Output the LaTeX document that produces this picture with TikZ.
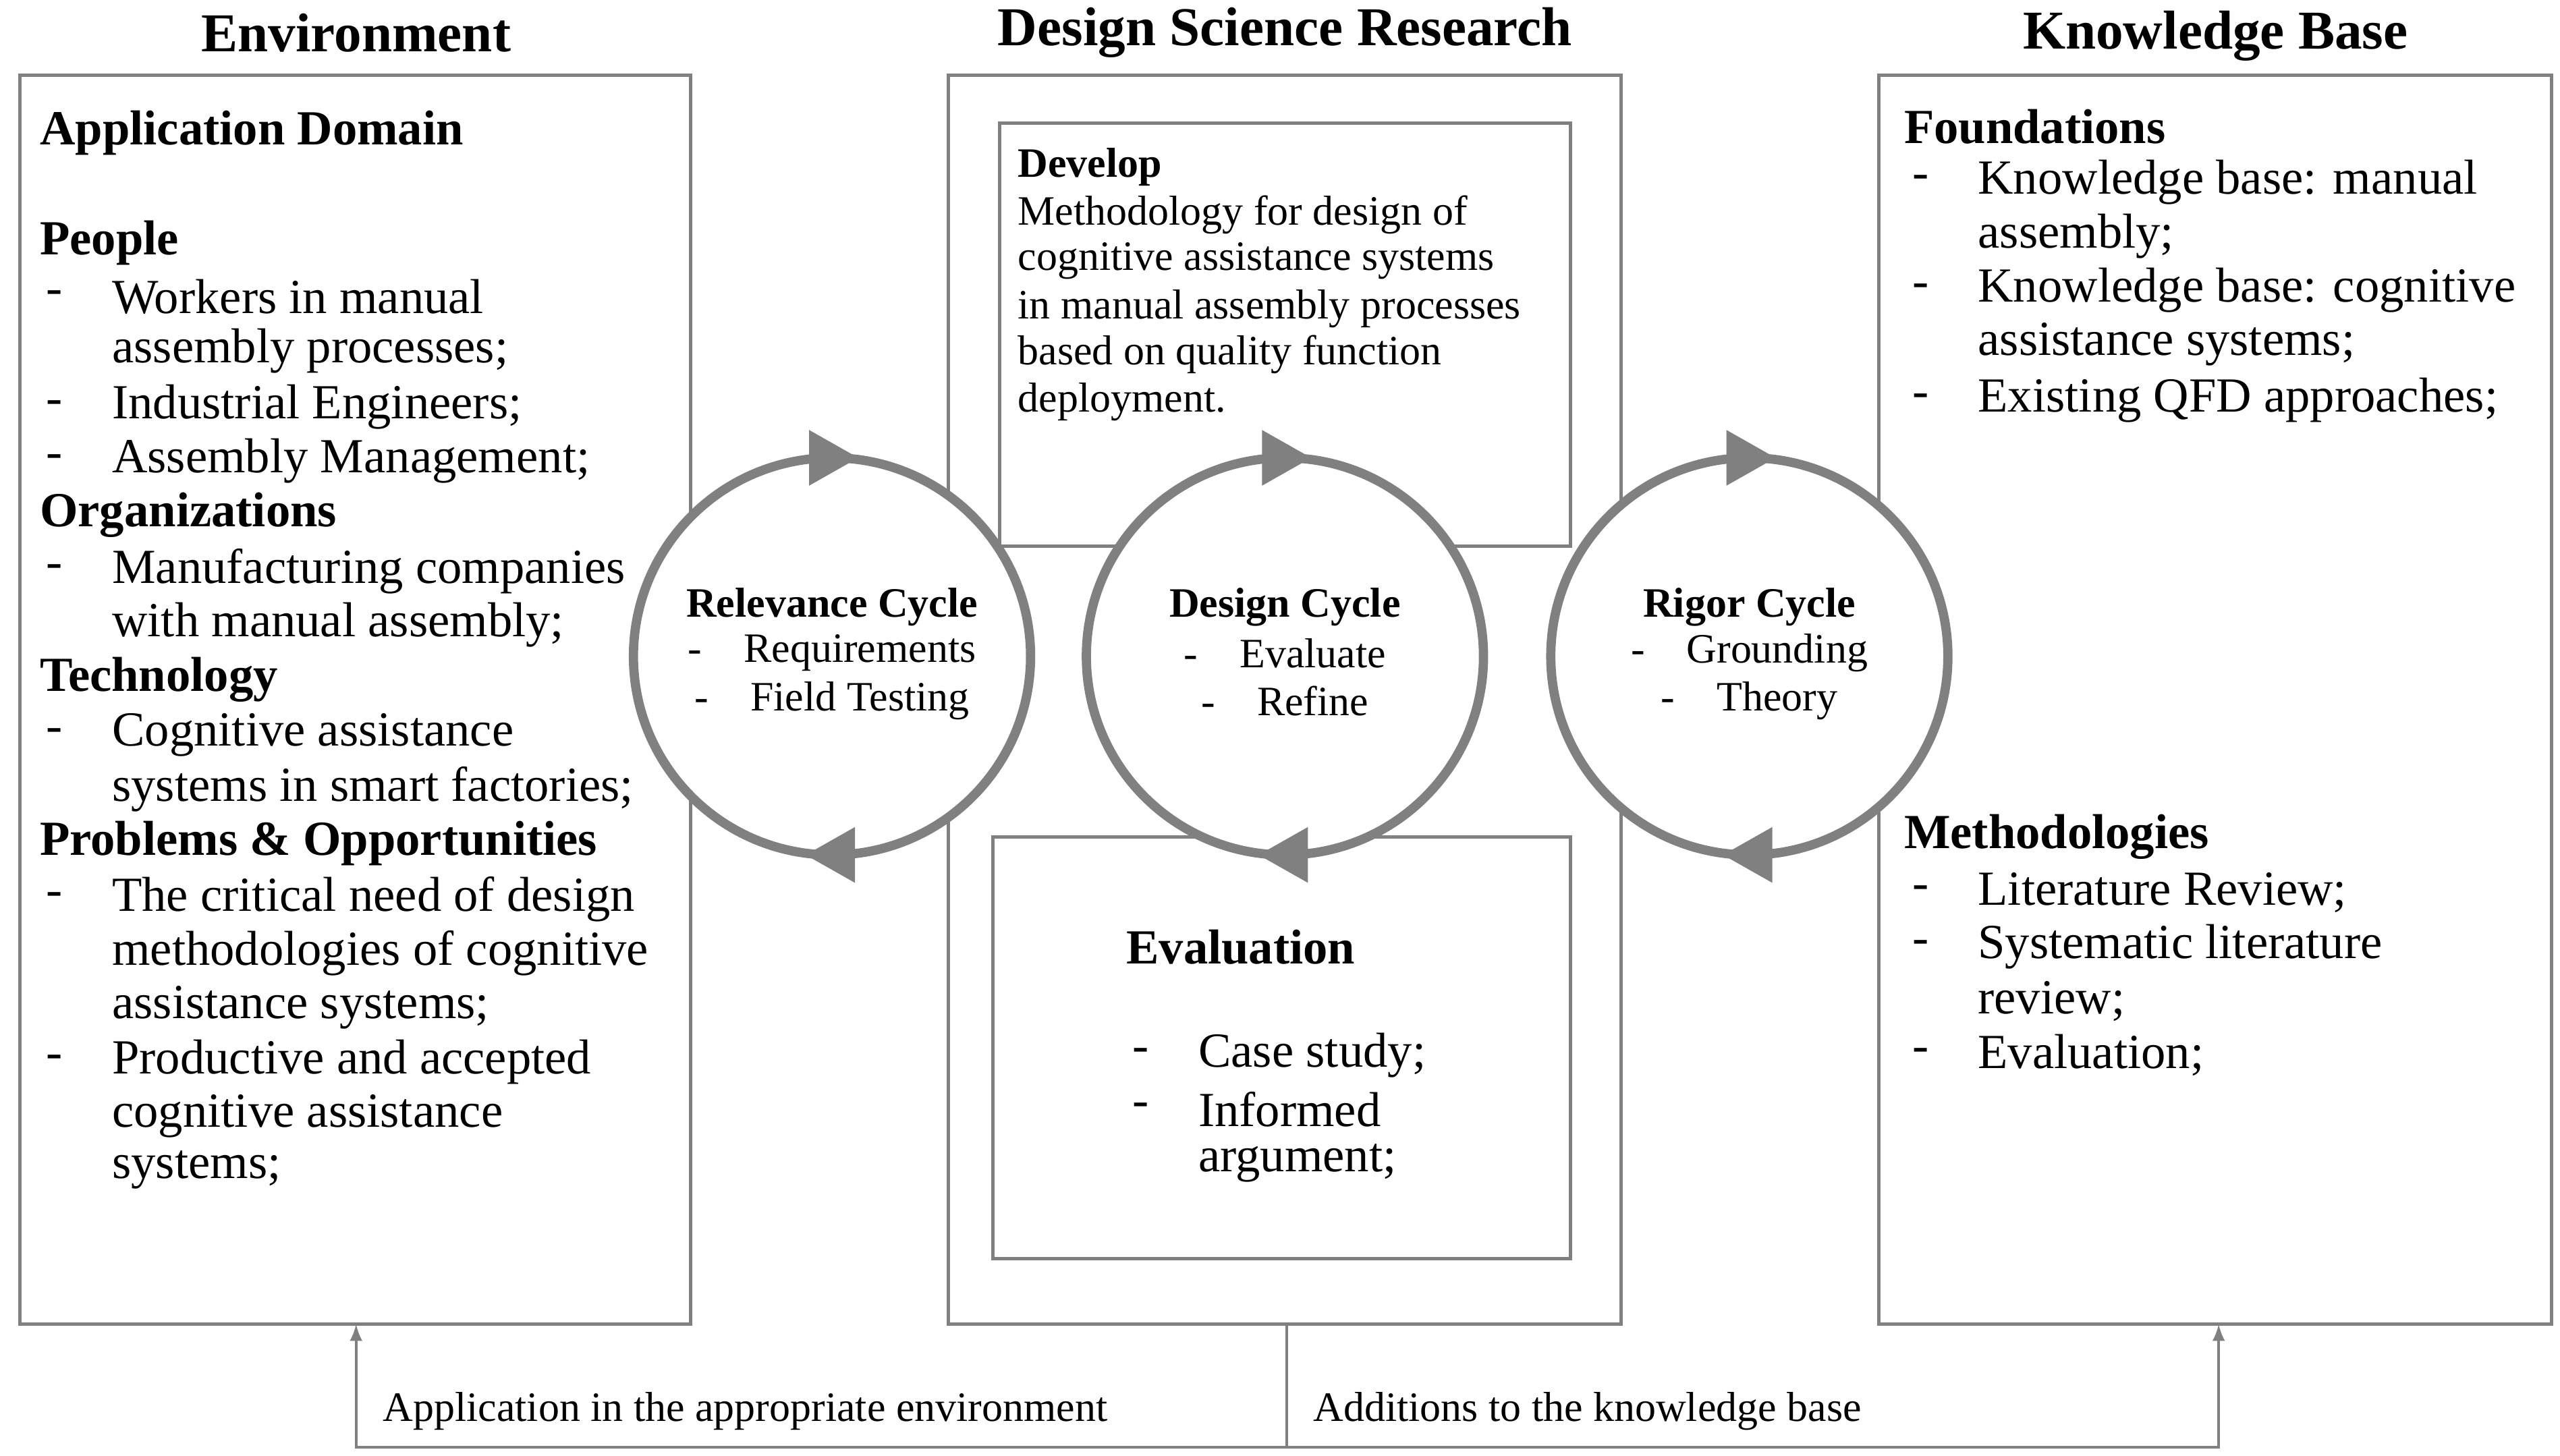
\documentclass[tikz,border=0pt]{standalone}
\usepackage{fontspec}
\setmainfont{Liberation Serif}
\begin{document}
\begin{tikzpicture}[x=0.02cm,y=-0.02cm,
 box/.style={draw=black!50,line width=1.2pt},
 cyc/.style={draw=black!50,line width=3.2pt},
 t/.style={anchor=west,inner sep=0pt,font=\fontsize{17}{20}\selectfont},
 s/.style={anchor=west,inner sep=0pt,font=\fontsize{14.5}{17}\selectfont},
 hb/.style={t,font=\fontsize{17}{20}\selectfont\bfseries},
 sb/.style={s,font=\fontsize{14.5}{17}\selectfont\bfseries},
 ti/.style={inner sep=0pt,font=\fontsize{19}{22}\selectfont\bfseries},
 c/.style={inner sep=0pt,font=\fontsize{14.5}{17}\selectfont}]
\useasboundingbox (0,0) rectangle (1560,887);
% titles
\node[ti] (tE) at (217,20) {Environment};
\node[ti] (tD) at (783,20) {Design Science Research};
\node[ti] (tK) at (1350,22) {Knowledge Base};
% boxes
\draw[box] (12,46) rectangle (421,807);
\draw[box] (578,46) rectangle (988,807);
\draw[box] (609,75) rectangle (957,333);
\draw[box] (605,510) rectangle (957,767);
\draw[box] (1145,46) rectangle (1555,807);
% left text
\node[hb] at (24,81) {Application Domain};
\node[hb] at (24,148) {People};
\foreach \y/\d/\tx in {181/-/Workers in manual,214//assembly processes;,248/-/Industrial Engineers;,281/-/Assembly Management;,348/-/Manufacturing companies,381//with manual assembly;,448/-/Cognitive assistance,481//systems in smart factories;,548/-/The critical need of design,581//methodologies of cognitive,614//assistance systems;,647/-/Productive and accepted,680//cognitive assistance,713//systems;}{
 \node[t] at (28,\y) {\d}; \node[t] at (68,\y) {\tx};}
\node[hb] at (24,314) {Organizations};
\node[hb] at (24,414) {Technology};
\node[hb] at (24,514) {Problems \& Opportunities};
% develop
\node[sb] at (620,102) {Develop};
\foreach \y/\tx in {131/Methodology for design of,159/cognitive assistance systems,188/in manual assembly processes,216/based on quality function,245/deployment.}{\node[s] at (620,\y) {\tx};}
% evaluation
\node[hb] at (686,577) {Evaluation};
\foreach \y/\d/\tx in {643/-/Case study;,676/-/Informed,709//argument;}{
 \node[t] at (690,\y) {\d}; \node[t] at (730,\y) {\tx};}
% right text
\node[hb] at (1160,77) {Foundations};
\foreach \y/\d/\tx in {111/-/Knowledge base: manual,144//assembly;,177/-/Knowledge base: cognitive,210//assistance systems;,244/-/Existing QFD approaches;,544/-/Literature Review;,577/-/Systematic literature,610//review;,643/-/Evaluation;}{
 \node[t] at (1165,\y) {\d}; \node[t] at (1205,\y) {\tx};}
\node[hb] at (1160,510) {Methodologies};
% cycles
\foreach \cx/\nm/\a/\b in {507/Relevance Cycle/Requirements/Field Testing,783/Design Cycle/Evaluate/Refine,1066/Rigor Cycle/Grounding/Theory}{
 \fill[white] (\cx,400) circle (121);
 \draw[cyc] (\cx,400) circle (121);
 \fill[black!50] (\cx-14,262)--(\cx+16,279)--(\cx-14,296)--cycle;
 \fill[black!50] (\cx+14,504)--(\cx-16,521)--(\cx+14,538)--cycle;
 \node[c,font=\fontsize{14.5}{17}\selectfont\bfseries] at (\cx,370) {\nm};
 \node[c] at (\cx,398) {-\quad\a};
 \node[c] at (\cx,427) {-\quad\b};
}
% bottom
\coordinate (b0) at (784,807);
\coordinate (b1) at (784,882);
\coordinate (bl) at (217,882);
\coordinate (br) at (1352,882);
\draw[black!50,line width=1pt] (b0)--(b1);
\draw[black!50,line width=1pt,-latex] (b1)--(bl)--(217,807);
\draw[black!50,line width=1pt,-latex] (b1)--(br)--(1352,807);
\node[s] at (233,860) {Application in the appropriate environment};
\node[s] at (800,860) {Additions to the knowledge base};
\end{tikzpicture}
\end{document}
